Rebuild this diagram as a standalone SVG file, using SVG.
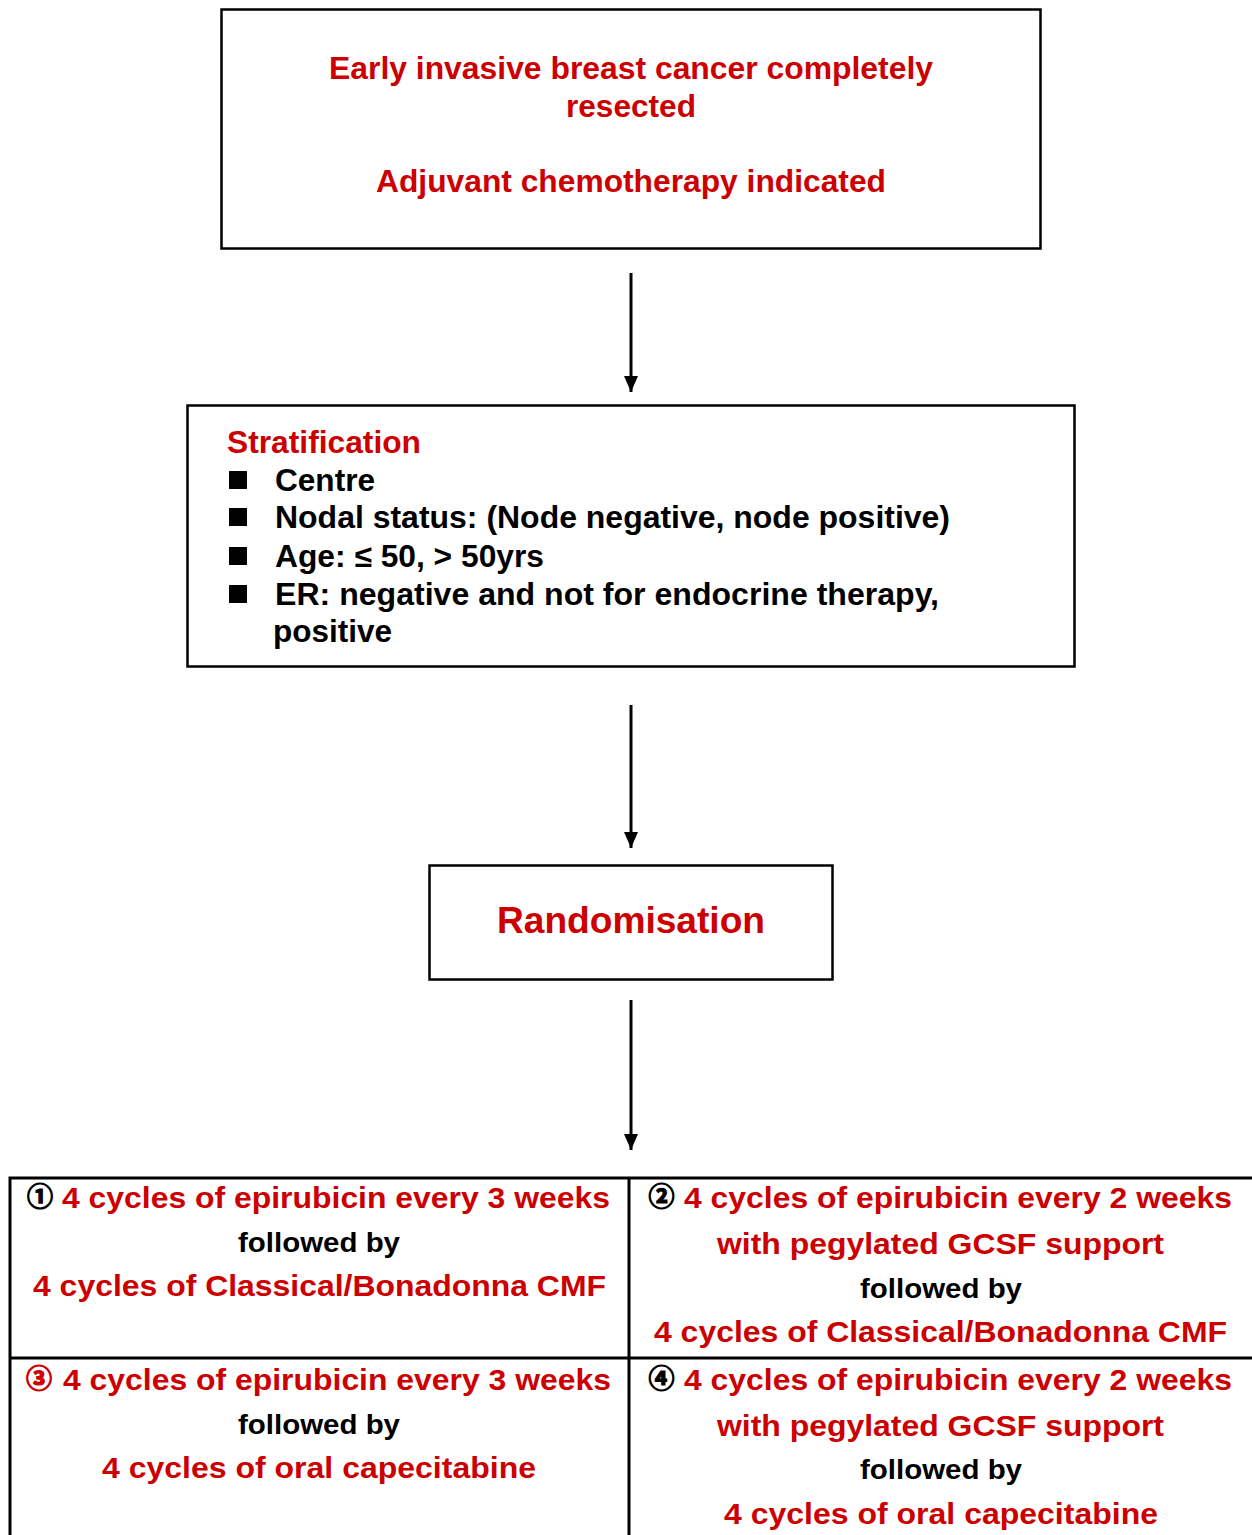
<svg xmlns="http://www.w3.org/2000/svg" width="1252" height="1535" viewBox="0 0 1252 1535">
<style>
text{font-family:"Liberation Sans",Arial,sans-serif;font-weight:bold}
.r{fill:#CC0000}
.k{fill:#000}
.c{text-anchor:middle}
.box{fill:#fff;stroke:#000;stroke-width:2.5}
.ln{stroke:#000;stroke-width:3;fill:none}
.t31{font-size:32px}
.t30{font-size:31px}
.t28{font-size:30px}
.t26{font-size:27px}
.num{font-family:"Noto Sans CJK JP","DejaVu Sans",sans-serif;font-weight:bold;font-size:26px;text-anchor:middle;stroke-width:1.2}
.num.k{stroke:#000}
.num.r{stroke:#CC0000}
</style>
<defs>
<marker id="a2" markerWidth="16" markerHeight="16" refX="16" refY="8" orient="auto" markerUnits="userSpaceOnUse" viewBox="0 0 16 16">
<path d="M0,1 L16,8 L0,15 Z" fill="#000"/>
</marker>
</defs>
<rect width="1252" height="1535" fill="#fff"/>
<g id="connectors">
<line class="ln" x1="631" y1="273" x2="631" y2="392" marker-end="url(#a2)"/>
<line class="ln" x1="631" y1="705" x2="631" y2="848" marker-end="url(#a2)"/>
<line class="ln" x1="631" y1="1000" x2="631" y2="1150" marker-end="url(#a2)"/>
</g>
<g id="node-eligibility">
<rect class="box" x="221.5" y="9.5" width="819" height="239"/>
<text class="r c t31" x="631" y="79" textLength="604" lengthAdjust="spacingAndGlyphs">Early invasive breast cancer completely</text>
<text class="r c t31" x="631" y="117" textLength="130" lengthAdjust="spacingAndGlyphs">resected</text>
<text class="r c t31" x="631" y="192" textLength="510" lengthAdjust="spacingAndGlyphs">Adjuvant chemotherapy indicated</text>
</g>
<g id="node-stratification">
<rect class="box" x="187.5" y="405.5" width="887" height="261"/>
<text class="r t30" x="227" y="453" textLength="194" lengthAdjust="spacingAndGlyphs">Stratification</text>
<rect x="229" y="471" width="18" height="18"/>
<rect x="229" y="508" width="18" height="18"/>
<rect x="229" y="547" width="18" height="18"/>
<rect x="229" y="585" width="18" height="18"/>
<text class="k t30" x="275" y="491" textLength="100" lengthAdjust="spacingAndGlyphs">Centre</text>
<text class="k t30" x="275" y="528" textLength="675" lengthAdjust="spacingAndGlyphs">Nodal status: (Node negative, node positive)</text>
<text class="k t30" x="275" y="567" textLength="269" lengthAdjust="spacingAndGlyphs">Age: ≤ 50, &gt; 50yrs</text>
<text class="k t30" x="275" y="605" textLength="664" lengthAdjust="spacingAndGlyphs">ER: negative and not for endocrine therapy,</text>
<text class="k t30" x="273" y="642" textLength="119" lengthAdjust="spacingAndGlyphs">positive</text>
</g>
<g id="node-randomisation">
<rect class="box" x="429.5" y="865.5" width="403" height="114"/>
<text class="r c" x="631" y="933" style="font-size:37px" textLength="268" lengthAdjust="spacingAndGlyphs">Randomisation</text>
</g>
<g id="node-arms">
<path class="ln" d="M10,1535 V1178 H1252 M629,1178 V1535 M10,1358 H1252"/>
</g>
<g id="node-arm1">
<text class="num k" x="40" y="1206">①</text>
<text class="r t28" x="62" y="1208" textLength="548" lengthAdjust="spacingAndGlyphs">4 cycles of epirubicin every 3 weeks</text>
<text class="k c t26" x="319" y="1252" textLength="162" lengthAdjust="spacingAndGlyphs">followed by</text>
<text class="r c t28" x="319.5" y="1296" textLength="573" lengthAdjust="spacingAndGlyphs">4 cycles of Classical/Bonadonna CMF</text>
</g>
<g id="node-arm2">
<text class="num k" x="661.5" y="1206">②</text>
<text class="r t28" x="684" y="1208" textLength="548" lengthAdjust="spacingAndGlyphs">4 cycles of epirubicin every 2 weeks</text>
<text class="r c t28" x="940.5" y="1254" textLength="447" lengthAdjust="spacingAndGlyphs">with pegylated GCSF support</text>
<text class="k c t26" x="941" y="1298" textLength="162" lengthAdjust="spacingAndGlyphs">followed by</text>
<text class="r c t28" x="940.5" y="1342" textLength="573" lengthAdjust="spacingAndGlyphs">4 cycles of Classical/Bonadonna CMF</text>
</g>
<g id="node-arm3">
<text class="num r" x="39" y="1388">③</text>
<text class="r t28" x="63" y="1390" textLength="548" lengthAdjust="spacingAndGlyphs">4 cycles of epirubicin every 3 weeks</text>
<text class="k c t26" x="319" y="1434" textLength="162" lengthAdjust="spacingAndGlyphs">followed by</text>
<text class="r c t28" x="319" y="1478" textLength="434" lengthAdjust="spacingAndGlyphs">4 cycles of oral capecitabine</text>
</g>
<g id="node-arm4">
<text class="num k" x="661.5" y="1388">④</text>
<text class="r t28" x="684" y="1390" textLength="548" lengthAdjust="spacingAndGlyphs">4 cycles of epirubicin every 2 weeks</text>
<text class="r c t28" x="940.5" y="1436" textLength="447" lengthAdjust="spacingAndGlyphs">with pegylated GCSF support</text>
<text class="k c t26" x="941" y="1479" textLength="162" lengthAdjust="spacingAndGlyphs">followed by</text>
<text class="r c t28" x="941" y="1524" textLength="434" lengthAdjust="spacingAndGlyphs">4 cycles of oral capecitabine</text>
</g>
</svg>
